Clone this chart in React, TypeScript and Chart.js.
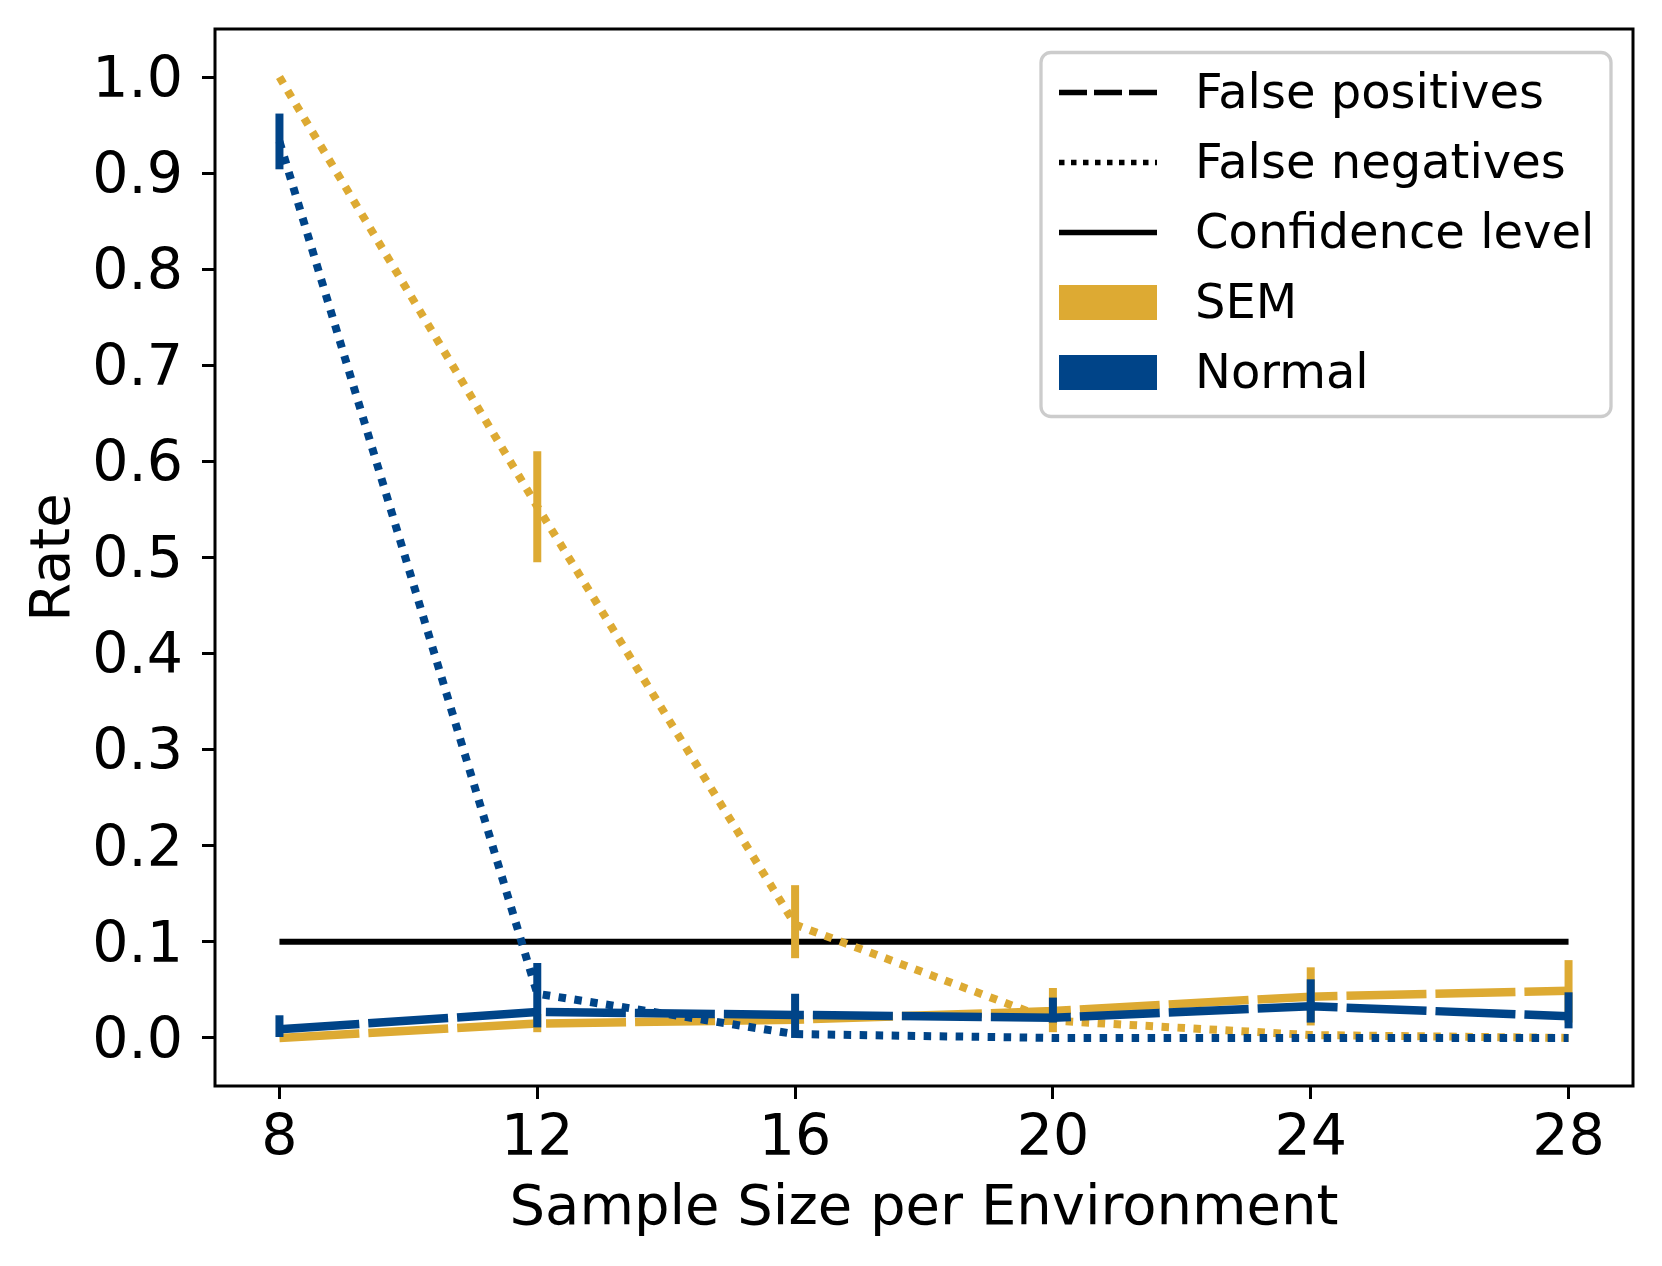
import React, { useEffect, useRef } from "react";
import { Chart, registerables } from "chart.js";

Chart.register(...registerables);

// ---------- data ----------
const sampleSizes = [8, 12, 16, 20, 24, 28];
const xTicks = [8, 12, 16, 20, 24, 28];
const yTicks = [0.0, 0.1, 0.2, 0.3, 0.4, 0.5, 0.6, 0.7, 0.8, 0.9, 1.0];

const semFalsePos = [0.0, 0.015, 0.019, 0.028, 0.043, 0.049];
const semFalseNeg = [1.0, 0.553, 0.118, 0.018, 0.003, 0.0];
const normalFalsePos = [0.009, 0.027, 0.024, 0.021, 0.033, 0.0225];
const normalFalseNeg = [0.933, 0.046, 0.004, 0.0, 0.0, 0.0];
const confidenceLevel = 0.1;

const semFalsePosErrLow = [null, 0.006, null, 0.006, 0.013, 0.016];
const semFalsePosErrHigh = [null, 0.025, null, 0.052, 0.0735, 0.081];
const semFalseNegErrLow = [null, 0.495, 0.083, null, null, null];
const semFalseNegErrHigh = [null, 0.6105, 0.159, null, null, null];
const normalFalsePosErrLow = [0.001, null, 0.0, 0.016, 0.016, 0.01];
const normalFalsePosErrHigh = [0.0236, null, 0.046, 0.042, 0.061, 0.0475];
const normalFalseNegErrLow = [0.904, 0.011, null, null, null, null];
const normalFalseNegErrHigh = [0.962, 0.078, null, null, null, null];

const legendLabels = ["False positives", "False negatives", "Confidence level", "SEM", "Normal"];
const xTitle = "Sample Size per Environment";
const yTitle = "Rate";

// ---------- styles ----------
const GOLD = "#DDAA33";
const BLUE = "#004488";
const FONT = "'DejaVu Sans', sans-serif";
const FS = 57;
const TITLE_FS = 56;
const LEGEND_FS = 48;
const DASH = [80, 9];
const DOT = [7.5, 8.5];

export default function App() {
  const ref = useRef<HTMLCanvasElement>(null);

  useEffect(() => {
    const canvas = ref.current!;
    const pts = (ys: number[]) => sampleSizes.map((x, i) => ({ x, y: ys[i] }));

    const errorBarPlugin = {
      id: "errorBars",
      afterDatasetDraw(chart: any, args: any) {
        const ds = chart.data.datasets[args.index] as any;
        if (!ds.errLow) return;
        const { ctx } = chart;
        const xs = chart.scales.x;
        const ys = chart.scales.y;
        ctx.save();
        ctx.strokeStyle = ds.borderColor;
        ctx.lineWidth = 8;
        ctx.lineCap = "butt";
        ctx.setLineDash([]);
        ds.errLow.forEach((lo: number | null, i: number) => {
          const hi = ds.errHigh[i];
          if (lo == null || hi == null) return;
          const px = xs.getPixelForValue(sampleSizes[i]);
          ctx.beginPath();
          ctx.moveTo(px, ys.getPixelForValue(lo));
          ctx.lineTo(px, ys.getPixelForValue(hi));
          ctx.stroke();
        });
        ctx.restore();
      },
    };

    const framePlugin = {
      id: "frameLegend",
      afterDraw(chart: any) {
        const { ctx, chartArea: a } = chart;
        ctx.save();
        // frame
        ctx.strokeStyle = "#000";
        ctx.lineWidth = 3;
        ctx.setLineDash([]);
        ctx.strokeRect(a.left, a.top, a.right - a.left, a.bottom - a.top);

        // legend box
        const bw = 570;
        const bh = 364;
        const bx = a.right - 22 - bw;
        const by = a.top + 23.5;
        ctx.beginPath();
        (ctx as any).roundRect(bx, by, bw, bh, 10);
        ctx.fillStyle = "rgba(255,255,255,0.8)";
        ctx.fill();
        ctx.strokeStyle = "#cccccc";
        ctx.lineWidth = 3.3;
        ctx.stroke();

        const hx0 = bx + 18;
        const hx1 = bx + 116;
        const tx = bx + 154;
        const rowY0 = by + 40;
        const rowGap = 70;
        ctx.font = `${LEGEND_FS}px ${FONT}`;
        ctx.textBaseline = "middle";
        ctx.textAlign = "left";
        legendLabels.forEach((label, i) => {
          const cy = rowY0 + i * rowGap;
          ctx.save();
          if (i < 3) {
            ctx.strokeStyle = "#000";
            ctx.lineWidth = 5.5;
            ctx.lineCap = "butt";
            ctx.setLineDash(i === 0 ? [28, 7] : i === 1 ? [5.5, 6.5] : []);
            ctx.beginPath();
            ctx.moveTo(hx0, cy);
            ctx.lineTo(hx1, cy);
            ctx.stroke();
          } else {
            ctx.fillStyle = i === 3 ? GOLD : BLUE;
            ctx.fillRect(hx0, cy - 17.5, hx1 - hx0, 35);
          }
          ctx.restore();
          ctx.fillStyle = "#000";
          ctx.fillText(label, tx, cy + 3.3);
        });
        ctx.restore();
      },
    };

    const chart = new Chart(canvas, {
      type: "line",
      data: {
        datasets: [
          {
            label: "Confidence level",
            data: [
              { x: sampleSizes[0], y: confidenceLevel },
              { x: sampleSizes[sampleSizes.length - 1], y: confidenceLevel },
            ],
            borderColor: "#000",
            borderWidth: 6,
            pointRadius: 0,
            order: 10,
          },
          {
            label: "SEM false positives",
            data: pts(semFalsePos),
            borderColor: GOLD,
            borderWidth: 8.5,
            borderDash: DASH,
            borderCapStyle: "butt",
            borderJoinStyle: "round",
            pointRadius: 0,
            order: 9,
            errLow: semFalsePosErrLow,
            errHigh: semFalsePosErrHigh,
          } as any,
          {
            label: "SEM false negatives",
            data: pts(semFalseNeg),
            borderColor: GOLD,
            borderWidth: 8,
            borderDash: DOT,
            borderCapStyle: "butt",
            borderJoinStyle: "round",
            pointRadius: 0,
            order: 8,
            errLow: semFalseNegErrLow,
            errHigh: semFalseNegErrHigh,
          } as any,
          {
            label: "Normal false positives",
            data: pts(normalFalsePos),
            borderColor: BLUE,
            borderWidth: 8.5,
            borderDash: DASH,
            borderCapStyle: "butt",
            borderJoinStyle: "round",
            pointRadius: 0,
            order: 7,
            errLow: normalFalsePosErrLow,
            errHigh: normalFalsePosErrHigh,
          } as any,
          {
            label: "Normal false negatives",
            data: pts(normalFalseNeg),
            borderColor: BLUE,
            borderWidth: 8,
            borderDash: DOT,
            borderCapStyle: "butt",
            borderJoinStyle: "round",
            pointRadius: 0,
            order: 6,
            errLow: normalFalseNegErrLow,
            errHigh: normalFalseNegErrHigh,
          } as any,
        ],
      },
      options: {
        animation: false,
        responsive: false,
        devicePixelRatio: 1,
        layout: { padding: { top: 29, right: 29, left: 0, bottom: 0 } },
        plugins: { legend: { display: false }, tooltip: { enabled: false } },
        elements: { line: { tension: 0 } },
        scales: {
          x: {
            type: "linear",
            min: 7,
            max: 29,
            afterBuildTicks: (s: any) => {
              s.ticks = xTicks.map((v) => ({ value: v }));
            },
            afterFit: (s: any) => {
              s.height = 180;
              s.paddingLeft = 0;
              s.paddingRight = 0;
              s.paddingTop = 0;
              s.paddingBottom = 0;
            },
            grid: {
              display: true,
              drawOnChartArea: false,
              drawTicks: true,
              tickLength: 13,
              tickWidth: 3,
              tickColor: "#000",
            },
            border: { display: false },
            ticks: {
              color: "#000",
              font: { family: FONT, size: FS },
              padding: 7,
              maxRotation: 0,
              callback: (v: any) => String(v),
            },
            title: {
              display: true,
              text: xTitle,
              color: "#000",
              font: { family: FONT, size: TITLE_FS },
              padding: { top: 0, bottom: 23 },
            },
          },
          y: {
            type: "linear",
            min: -0.05,
            max: 1.05,
            afterBuildTicks: (s: any) => {
              s.ticks = yTicks.map((v) => ({ value: v }));
            },
            afterFit: (s: any) => {
              s.width = 215;
              s.paddingLeft = 0;
              s.paddingRight = 0;
              s.paddingTop = 0;
              s.paddingBottom = 0;
            },
            grid: {
              display: true,
              drawOnChartArea: false,
              drawTicks: true,
              tickLength: 13,
              tickWidth: 3,
              tickColor: "#000",
            },
            border: { display: false },
            ticks: {
              color: "#000",
              font: { family: FONT, size: FS },
              padding: 19,
              labelOffset: 5,
              callback: (v: any) => Number(v).toFixed(1),
            },
            title: {
              display: true,
              text: yTitle,
              color: "#000",
              font: { family: FONT, size: TITLE_FS },
              padding: { top: 21, bottom: 0 },
            },
          },
        },
      },
      plugins: [errorBarPlugin, framePlugin],
    } as any);

    return () => chart.destroy();
  }, []);

  return (
    <div style={{ position: "absolute", left: 0, top: 0, width: 1662, height: 1266, background: "#fff" }}>
      <canvas ref={ref} width={1662} height={1266} style={{ width: 1662, height: 1266, display: "block" }} />
    </div>
  );
}
